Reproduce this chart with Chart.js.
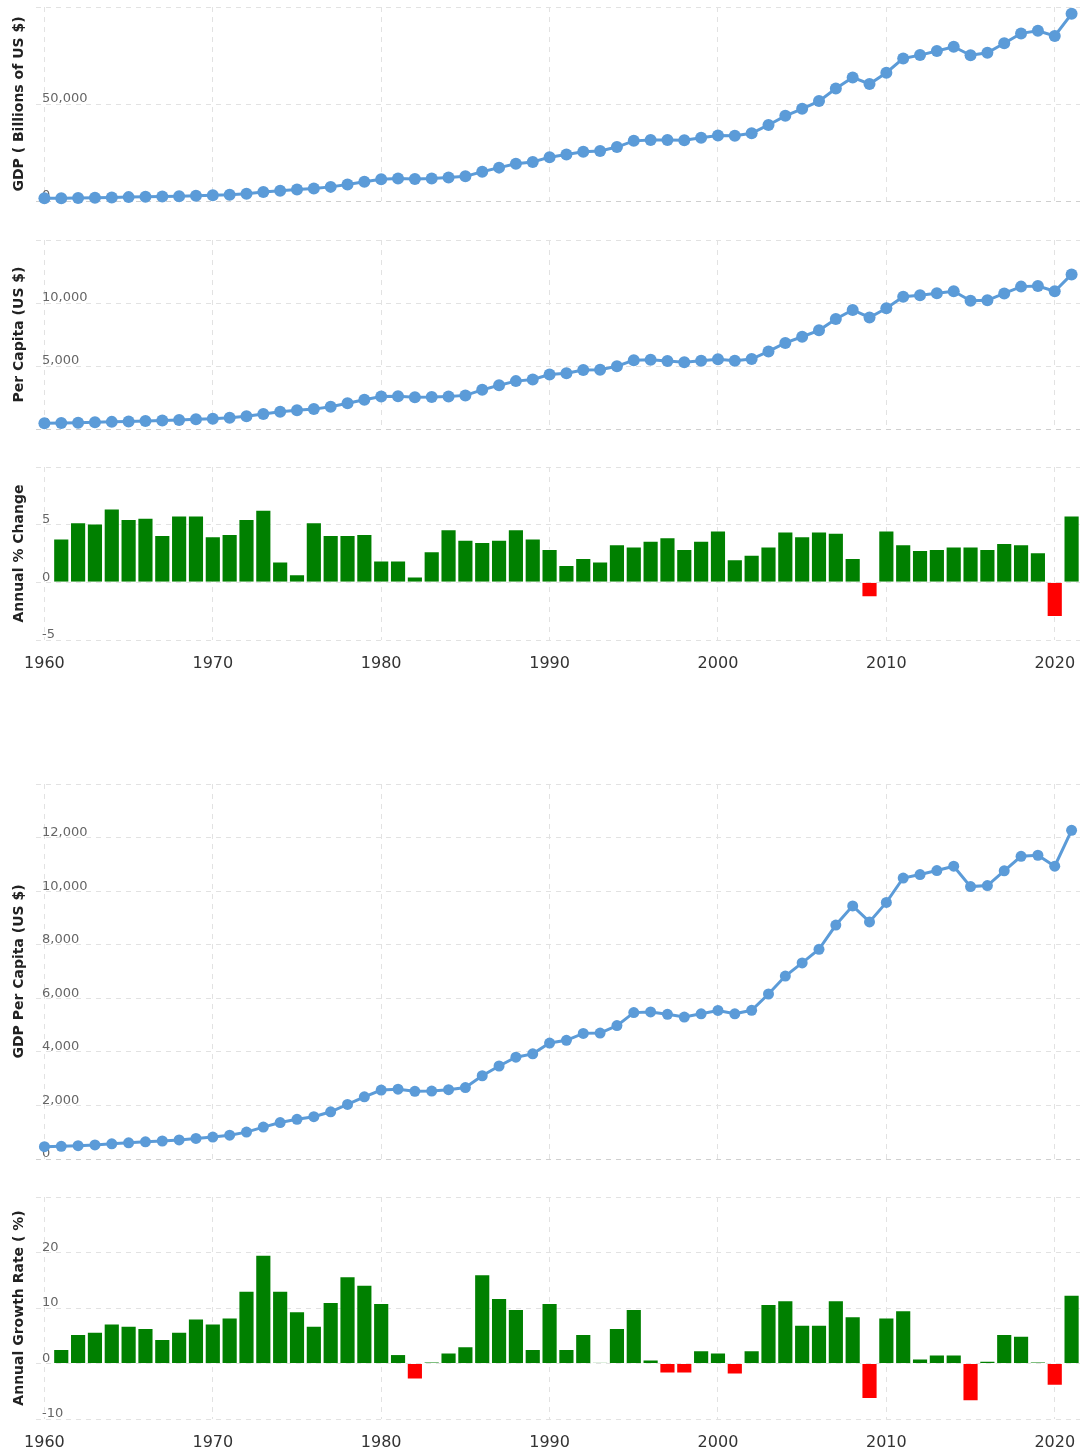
<!DOCTYPE html>
<html>
<head>
<meta charset="utf-8">
<title>World GDP</title>
<script src="https://cdn.jsdelivr.net/npm/chart.js@4.4.0/dist/chart.umd.min.js"></script>
<style>
  body { margin: 0; background: #fff; }
  #page { position: relative; width: 1080px; height: 1452px; overflow: hidden; }
  #page canvas { position: absolute; left: 0; }
</style>
</head>
<body>
<div id="page">
  <canvas id="gdpChart" width="1080" height="210" style="top:0px"></canvas>
  <canvas id="capitaChart" width="1080" height="205" style="top:232px"></canvas>
  <canvas id="changeChart" width="1080" height="213" style="top:459px"></canvas>
  <canvas id="capitaBigChart" width="1080" height="391" style="top:776px"></canvas>
  <canvas id="growthChart" width="1080" height="263" style="top:1189px"></canvas>
</div>
<script>
// years on the x axis
const years = Array.from({ length: 62 }, (_, i) => 1960 + i);

// GDP, billions of US $ (1960-2021)
const gdpBillions = [
  1380, 1450, 1550, 1680, 1840, 2000, 2170, 2300, 2470, 2710,
  2970, 3270, 3780, 4600, 5320, 5920, 6430, 7280, 8560, 9960,
  11250, 11590, 11380, 11640, 12110, 12720, 15070, 17200, 19200, 20150,
  22600, 23950, 25400, 25800, 27800, 31000, 31500, 31450, 31300, 32600,
  33800, 33600, 34900, 39200, 43900, 47500, 51500, 58000, 63700, 60300,
  66100, 73500, 75200, 77300, 79500, 75100, 76400, 81300, 86400, 87700,
  85100, 96500
];

// GDP per capita, US $ (1960-2021)
const perCapita = [
  460, 472, 497, 527, 566, 603, 642, 672, 710, 766,
  818, 888, 1004, 1192, 1360, 1482, 1578, 1762, 2038, 2322,
  2572, 2605, 2528, 2535, 2588, 2668, 3108, 3472, 3800, 3925,
  4330, 4430, 4690, 4700, 4980, 5465, 5490, 5400, 5300, 5420,
  5545, 5420, 5550, 6160, 6830, 7320, 7830, 8735, 9450, 8850,
  9580, 10490, 10620, 10770, 10930, 10170, 10210, 10760, 11300, 11340,
  10930, 12270
];

// annual % change of GDP (no value for 1960)
const gdpGrowth = [
  null,
  3.8, 5.2, 5.1, 6.4, 5.5, 5.6, 4.1, 5.8, 5.8, 4.0,
  4.2, 5.5, 6.3, 1.8, 0.7, 5.2, 4.1, 4.1, 4.2, 1.9,
  1.9, 0.5, 2.7, 4.6, 3.7, 3.5, 3.7, 4.6, 3.8, 2.9,
  1.5, 2.1, 1.8, 3.3, 3.1, 3.6, 3.9, 2.9, 3.6, 4.5,
  2.0, 2.4, 3.1, 4.4, 4.0, 4.4, 4.3, 2.1, -1.3, 4.5,
  3.3, 2.8, 2.9, 3.1, 3.1, 2.9, 3.4, 3.3, 2.6, -3.0, 5.8
];

// annual growth rate of GDP per capita, % (no value for 1960)
const perCapitaGrowth = [
  null,
  2.6, 5.3, 5.7, 7.2, 6.8, 6.4, 4.4, 5.7, 8.1, 7.2,
  8.3, 13.1, 19.6, 13.1, 9.4, 6.8, 11.1, 15.7, 14.2, 10.9,
  1.7, -2.9, 0.3, 2.0, 3.1, 16.1, 11.8, 9.8, 2.6, 10.9,
  2.6, 5.3, 0.2, 6.4, 9.8, 0.7, -1.8, -1.8, 2.4, 2.0,
  -2.0, 2.4, 10.7, 11.4, 7.0, 7.0, 11.4, 8.5, -6.4, 8.3,
  9.6, 0.9, 1.6, 1.6, -6.8, 0.5, 5.3, 5.0, 0.3, -4.0, 12.4
];

// y axis ticks for each panel (top one is not labelled)
const gdpTicks = [0, 50000, 100000];
const capitaTicks = [0, 5000, 10000, 15000];
const changeTicks = [-5, 0, 5, 10];
const capitaBigTicks = [0, 2000, 4000, 6000, 8000, 10000, 12000, 14000];
const growthTicks = [-10, 0, 10, 20, 30];

const LINE_BLUE = '#5b9bd8';
const BAR_GREEN = '#008000';
const BAR_RED = '#ff0000';
const GRID = '#e2e2e2';
const Y_AXIS_WIDTH = 36;
const X_LABEL_HEIGHT = 30;

Chart.defaults.font.family = '"DejaVu Sans", Verdana, sans-serif';
Chart.defaults.animation = false;

function xAxis(showLabels) {
  return {
    type: 'category',
    offset: true,
    afterBuildTicks: axis => {
      axis.ticks = axis.ticks.filter(t => years[t.value] % 10 === 0);
    },
    afterFit: axis => {
      axis.height = showLabels ? X_LABEL_HEIGHT : 0;
      axis.paddingLeft = 0;
      axis.paddingRight = 0;
    },
    grid: { offset: false, color: GRID, drawTicks: false },
    border: { display: false, dash: [5, 5] },
    ticks: {
      display: showLabels,
      autoSkip: false,
      maxRotation: 0,
      padding: 14,
      color: '#333',
      font: { size: 16 }
    }
  };
}

function yAxis(title, tickValues, darkBottom) {
  const top = tickValues[tickValues.length - 1];
  return {
    min: tickValues[0],
    max: top,
    afterBuildTicks: axis => {
      axis.ticks = tickValues.map(v => ({ value: v }));
    },
    afterFit: axis => {
      axis.width = Y_AXIS_WIDTH;
      axis.paddingTop = 0;
      axis.paddingBottom = 0;
    },
    grid: {
      drawTicks: false,
      color: ctx => (darkBottom && ctx.tick && ctx.tick.value === tickValues[0]) ? '#cfcfcf' : GRID
    },
    border: { display: false, dash: [5, 5] },
    ticks: {
      mirror: true,
      padding: 6,
      labelOffset: -5,
      color: '#666',
      font: { size: 13 },
      callback: v => v === top ? '' : v.toLocaleString('en-US')
    },
    title: {
      display: true,
      text: title,
      color: '#222',
      font: { size: 14, weight: 'bold' },
      padding: { top: 11, bottom: 0 }
    }
  };
}

function lineChart(id, values, title, tickValues, radius, padding) {
  new Chart(document.getElementById(id), {
    type: 'line',
    data: {
      labels: years,
      datasets: [{
        data: values,
        borderColor: LINE_BLUE,
        backgroundColor: LINE_BLUE,
        borderWidth: 3,
        pointRadius: radius,
        pointBorderWidth: 0,
        pointBackgroundColor: LINE_BLUE,
        tension: 0,
        clip: false
      }]
    },
    options: {
      responsive: false,
      devicePixelRatio: 1,
      layout: { autoPadding: false, padding: padding },
      plugins: { legend: { display: false }, tooltip: { enabled: false } },
      scales: {
        x: xAxis(false),
        y: yAxis(title, tickValues, true)
      }
    }
  });
}

function barChart(id, values, title, tickValues, padding) {
  new Chart(document.getElementById(id), {
    type: 'bar',
    data: {
      labels: years,
      datasets: [{
        data: values,
        backgroundColor: ctx => ctx.raw < 0 ? BAR_RED : BAR_GREEN,
        borderColor: 'rgba(255,255,255,0.55)',
        borderWidth: 1,
        barPercentage: 1,
        categoryPercentage: 0.96
      }]
    },
    options: {
      responsive: false,
      devicePixelRatio: 1,
      layout: { autoPadding: false, padding: padding },
      plugins: { legend: { display: false }, tooltip: { enabled: false } },
      scales: {
        x: xAxis(true),
        y: yAxis(title, tickValues, false)
      }
    }
  });
}

lineChart('gdpChart', gdpBillions, 'GDP ( Billions of US $)', gdpTicks, 6, { top: 7, bottom: 9 });
lineChart('capitaChart', perCapita, 'Per Capita (US $)', capitaTicks, 6, { top: 8, bottom: 8 });
barChart('changeChart', gdpGrowth, 'Annual % Change', changeTicks, { top: 8, bottom: 2 });
lineChart('capitaBigChart', perCapita, 'GDP Per Capita (US $)', capitaBigTicks, 5.5, { top: 8, bottom: 8 });
barChart('growthChart', perCapitaGrowth, 'Annual Growth Rate ( %)', growthTicks, { top: 8, bottom: 3 });
</script>
</body>
</html>
